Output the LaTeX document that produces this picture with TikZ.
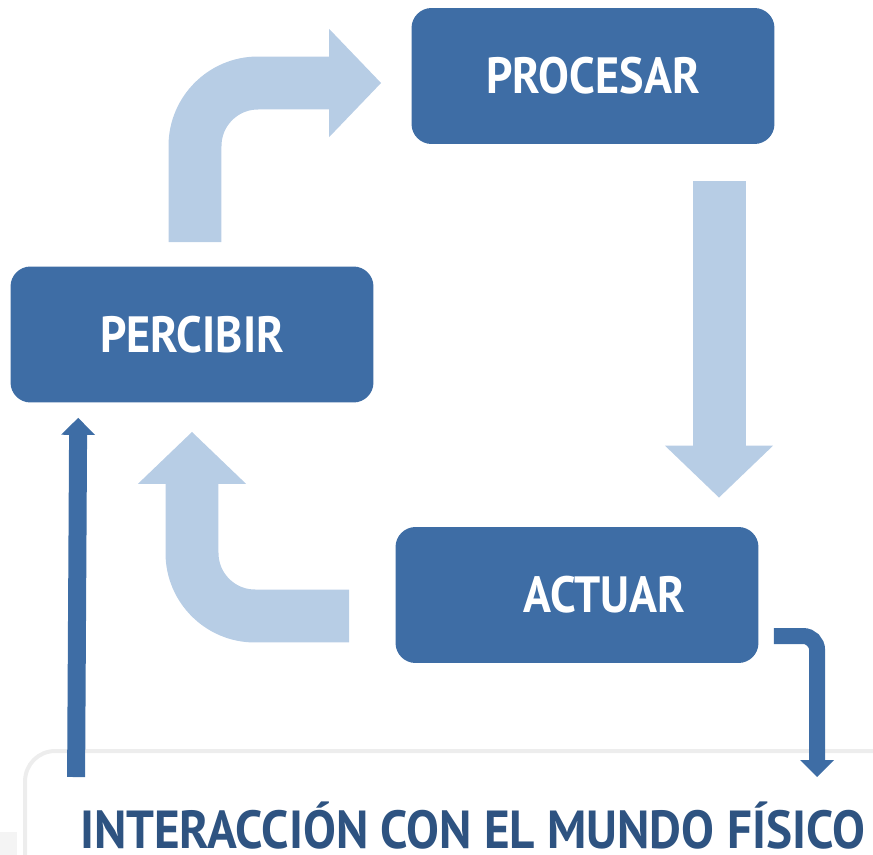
\documentclass[tikz,border=0pt]{standalone}
\usepackage{fontspec}
\setmainfont{PT Sans}[FakeStretch=0.905]
\newfontfamily\titlefont{PT Sans}[FakeStretch=0.917]
\usetikzlibrary{arrows.meta,calc}
\definecolor{boxblue}{HTML}{3E6DA5}
\definecolor{paleblue}{HTML}{B7CDE5}
\definecolor{darkblue}{HTML}{2E5381}
\definecolor{framegray}{HTML}{EDEDED}
\tikzset{
	stage/.style={fill=boxblue, rounded corners=0.4cm, minimum width=7.26cm, minimum height=2.72cm, text=white, font=\bfseries\fontsize{29pt}{30pt}\selectfont},
	flow/.style={paleblue, line width=1.06cm, -{Triangle[length=1.04cm, width=2.1cm]}},
	link/.style={boxblue, -{Triangle[length=0.34cm, width=0.66cm]}}
}

\begin{document}
\begin{tikzpicture}[x=0.02cm, y=-0.02cm]
	\useasboundingbox (0,0) rectangle (873,855);
	\clip (0,0) rectangle (873,855);
	\fill[framegray!60] (0,832) rectangle (17,855);

	\node[stage] (procesar) at (593,76) {PROCESAR};
	\node[stage] (percibir) at (192,334.5) {PERCIBIR};
	\node[stage] (actuar) at (577,595) {\hspace*{31pt}ACTUAR};
	\node[draw=framegray, line width=0.08cm, rounded corners=0.6cm, minimum width=17.9cm, minimum height=3.16cm, text=darkblue, text height=21.5pt, text depth=0pt, font=\titlefont\bfseries\fontsize{30.5pt}{31pt}\selectfont] (mundo) at (472.5,830) {INTERACCIÓN CON EL MUNDO FÍSICO};

	\draw[flow, rounded corners=1.26cm] ($(percibir.north)+(3,-24)$) |- ($(procesar.west)+(-30,7)$);
	\draw[flow] ($(procesar.south)+(126,37)$) -- ($(actuar.north)+(142,-29)$);
	\draw[flow, rounded corners=1.26cm] ($(actuar.west)+(-46,21)$) -| ($(percibir.south)+(0,29)$);

	\draw[link, line width=0.36cm] ($(mundo.north west)+(53,28)$) -- ($(percibir.south west)+(68,15)$);
	\draw[link, line width=0.32cm, rounded corners=0.28cm] ($(actuar.east)+(15,41)$) -| ($(mundo.north west)+(794,28)$);
\end{tikzpicture}
\end{document}
